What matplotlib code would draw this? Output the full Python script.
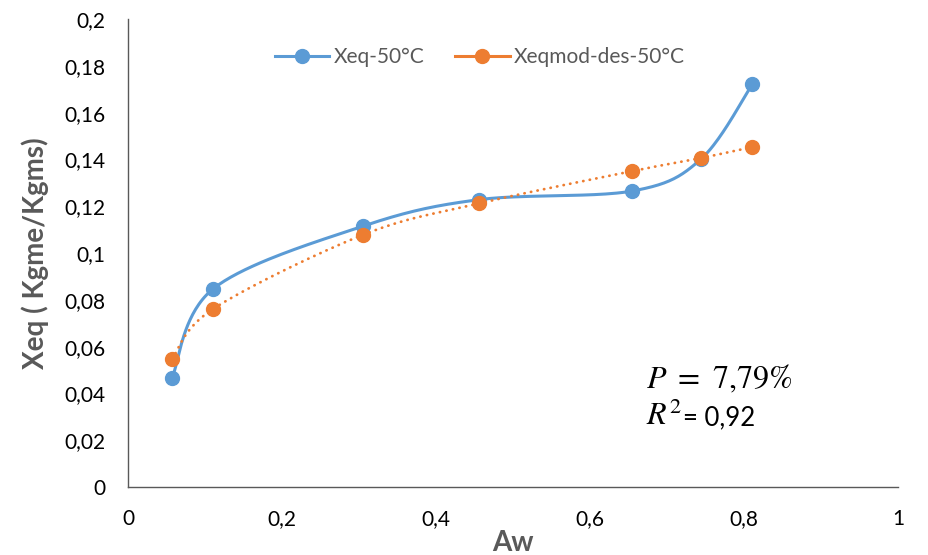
"""Xeq vs Aw at 50 °C: experimental and model desorption curves."""

import matplotlib

matplotlib.use("Agg")
import matplotlib.pyplot as plt
import numpy as np

aw = [0.0572, 0.111, 0.3054, 0.456, 0.655, 0.7443, 0.811]
xeq_exp = [0.0466, 0.0848, 0.1115, 0.1228, 0.1265, 0.1402, 0.1722]
xeq_mod = [0.0547, 0.0762, 0.1078, 0.1212, 0.1350, 0.1406, 0.1453]

x_ticks = [0, 0.2, 0.4, 0.6, 0.8, 1]
y_ticks = [0, 0.02, 0.04, 0.06, 0.08, 0.1, 0.12, 0.14, 0.16, 0.18, 0.2]


def fmt(v):
    """Excel-style tick label with decimal comma."""
    s = f"{v:.2f}".rstrip("0").rstrip(".")
    return s.replace(".", ",")


def smooth(xs, ys, sx=770.0, sy=2340.0, n=40):
    """Catmull-Rom bezier smoothing (as Excel's smoothed line), in screen units."""
    p = np.column_stack([np.asarray(xs) * sx, np.asarray(ys) * sy])
    out = []
    for i in range(len(p) - 1):
        p0 = p[i - 1] if i > 0 else p[i]
        p1, p2 = p[i], p[i + 1]
        p3 = p[i + 2] if i + 2 < len(p) else p[i + 1]
        c1 = p1 + (p2 - p0) / 6
        c2 = p2 - (p3 - p1) / 6
        t = np.linspace(0, 1, n)[:, None]
        seg = ((1 - t) ** 3) * p1 + 3 * ((1 - t) ** 2) * t * c1 \
            + 3 * (1 - t) * t ** 2 * c2 + t ** 3 * p2
        out.append(seg if i == 0 else seg[1:])
    pts = np.vstack(out)
    return pts[:, 0] / sx, pts[:, 1] / sy


plt.rcParams["font.family"] = ["Lato", "DejaVu Sans"]
plt.rcParams["mathtext.fontset"] = "stix"

fig = plt.figure(figsize=(9.29, 5.55), dpi=100)
ax = fig.add_axes([128 / 929, 68 / 555, 770 / 929, 468 / 555])

blue = "#5B9BD5"
orange = "#ED7D31"

bx, by = smooth(aw, xeq_exp)
ax.plot(bx, by, color=blue, lw=2.2, solid_capstyle="round", zorder=2)
ax.plot(aw, xeq_exp, "o", color=blue, ms=10, zorder=3)

ox, oy = smooth(aw, xeq_mod)
ax.plot(ox, oy, color=orange, lw=2.0, linestyle=(0, (0.1, 2.3)),
        dash_capstyle="round", zorder=4)
ax.plot(aw, xeq_mod, "o", color=orange, ms=10, zorder=5)

# legend proxies
h1, = ax.plot([], [], color=blue, lw=2.2, marker="o", ms=10)
h2, = ax.plot([], [], color=orange, lw=2.2, marker="o", ms=10)
leg = ax.legend([h1, h2], ["Xeq-50°C", "Xeqmod-des-50°C"], loc="center",
                bbox_to_anchor=(0.457, 0.919), ncol=2, frameon=False,
                fontsize=15, handlelength=2.6, handletextpad=0.2,
                columnspacing=1.5)
for t in leg.get_texts():
    t.set_color("#595959")

ax.set_xlim(0, 1)
ax.set_ylim(0, 0.2)
ax.set_xticks(x_ticks)
ax.set_xticklabels([fmt(v) for v in x_ticks])
ax.set_yticks(y_ticks)
ax.set_yticklabels([fmt(v) for v in y_ticks])
ax.tick_params(length=0, labelsize=15, labelcolor="#000000")
ax.tick_params(axis="x", pad=16)
ax.tick_params(axis="y", pad=16)

for side in ["top", "right"]:
    ax.spines[side].set_visible(False)
for side in ["left", "bottom"]:
    ax.spines[side].set_color("#595959")
    ax.spines[side].set_linewidth(1.0)

ax.set_xlabel("Aw", fontsize=20, fontweight="bold", color="#595959")
ax.set_ylabel("Xeq ( Kgme/Kgms)", fontsize=20, fontweight="bold", color="#595959")
ax.xaxis.set_label_coords(0.5, -0.092)
ax.yaxis.set_label_coords(-0.103, 0.5)

# fit statistics
ax.text(0.673, 0.2115, r"$P\ =\ 7{,}79\%$", transform=ax.transAxes,
        fontsize=23, color="#000000", va="baseline")
ax.text(0.673, 0.1325, r"$R^2$", transform=ax.transAxes,
        fontsize=23, color="#000000", va="baseline")
ax.text(0.7208, 0.1325, "= 0,92", transform=ax.transAxes,
        fontsize=18.5, color="#000000", va="baseline")

fig.savefig("out.png", dpi=100)
